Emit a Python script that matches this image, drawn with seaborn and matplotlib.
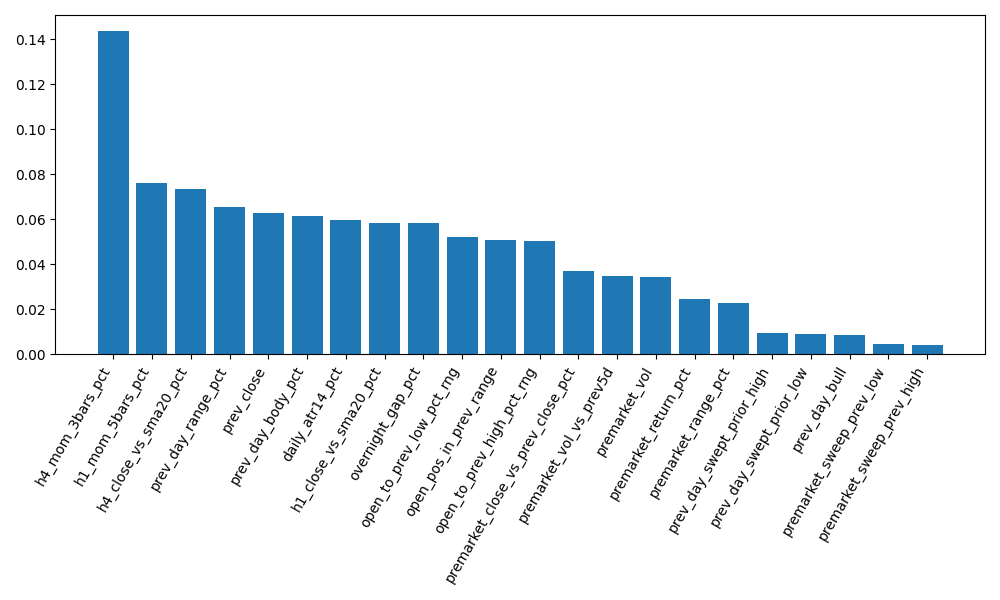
import matplotlib
matplotlib.use('Agg')
import matplotlib.pyplot as plt
import seaborn as sns
import pandas as pd

features = [
    "h4_mom_3bars_pct", "h1_mom_5bars_pct", "h4_close_vs_sma20_pct",
    "prev_day_range_pct", "prev_close", "prev_day_body_pct",
    "daily_atr14_pct", "h1_close_vs_sma20_pct", "overnight_gap_pct",
    "open_to_prev_low_pct_rng", "open_pos_in_prev_range",
    "open_to_prev_high_pct_rng", "premarket_close_vs_prev_close_pct",
    "premarket_vol_vs_prev5d", "premarket_vol", "premarket_return_pct",
    "premarket_range_pct", "prev_day_swept_prior_high",
    "prev_day_swept_prior_low", "prev_day_bull", "premarket_sweep_prev_low",
    "premarket_sweep_prev_high",
]
importance = [
    0.1435, 0.0759, 0.0734, 0.0652, 0.0626, 0.0612, 0.0595, 0.0581, 0.0581,
    0.0519, 0.0506, 0.0501, 0.0368, 0.0346, 0.0342, 0.0244, 0.0226, 0.0093,
    0.0089, 0.0084, 0.0044, 0.0040,
]

df = pd.DataFrame({"feature": features, "importance": importance})

fig, ax = plt.subplots(figsize=(10, 6), dpi=100)
sns.barplot(data=df, x="feature", y="importance", color="#1f77b4",
            saturation=1, width=0.8, ax=ax)

n = len(features)
pad = 0.05 * (n - 1 + 0.8)
ax.set_xlim(-0.4 - pad, n - 1 + 0.4 + pad)
ax.set_ylim(0, max(importance) * 1.05)
ax.set_xlabel("")
ax.set_ylabel("")
plt.xticks(rotation=60, ha="right")
plt.tight_layout()
plt.savefig("out.png", dpi=100)
plt.close()
